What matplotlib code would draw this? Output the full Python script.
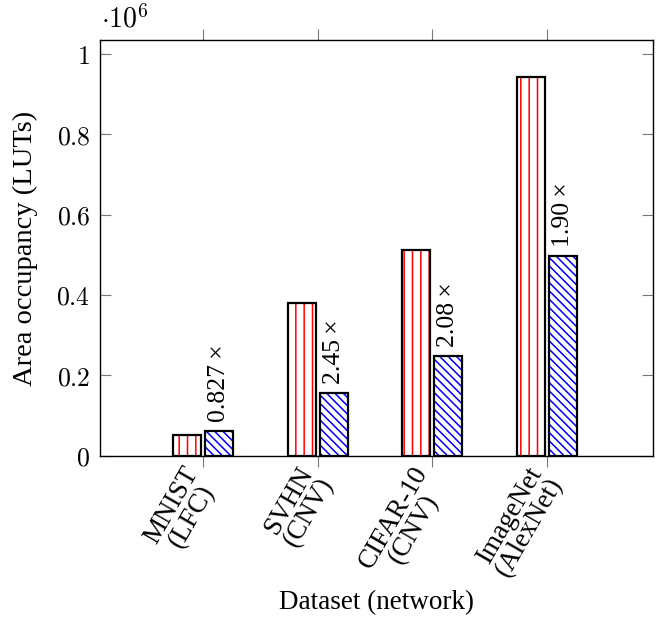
import matplotlib
matplotlib.use("Agg")
import matplotlib.pyplot as plt
import numpy as np

categories = ["MNIST\n(LFC)", "SVHN\n(CNV)", "CIFAR-10\n(CNV)", "ImageNet\n(AlexNet)"]
baseline = [0.050, 0.380, 0.512, 0.943]   # x 1e6 LUTs
proposed = [0.0605, 0.155, 0.247, 0.4965]  # x 1e6 LUTs
ratio_labels = ["0.827×", "2.45×", "2.08×", "1.90×"]
yticks = [0, 0.2, 0.4, 0.6, 0.8, 1.0]

FS_NUM = 18.5
FS_TXT = 19.5
FS_YLAB = 20.5
FS_RATIO = 18.5
plt.rcParams['mathtext.fontset'] = 'cm'
plt.rcParams['hatch.linewidth'] = 1.1
serif = ['Liberation Serif', 'DejaVu Serif']

fig = plt.figure(figsize=(6.67, 6.33), dpi=100)
ax = fig.add_axes([100/667, 1-455.5/633, 553/667, 415.5/633])

x = np.arange(len(categories))
w = 0.245
off = 0.14

# hatched fills
ax.bar(x - off, baseline, w, facecolor='white', edgecolor='red', hatch='||', linewidth=0, zorder=2)
ax.bar(x + off, proposed, w, facecolor='white', edgecolor='blue', hatch='\\\\\\\\', linewidth=0, zorder=2)
# outlines
ax.bar(x - off, baseline, w, facecolor='none', edgecolor='black', linewidth=1.6, zorder=3)
ax.bar(x + off, proposed, w, facecolor='none', edgecolor='black', linewidth=1.6, zorder=3)

for xi, v, lab in zip(x, proposed, ratio_labels):
    ax.annotate(lab.replace('×', '\u2009×'), (xi + off, v), xytext=(0, 6.5), textcoords='offset points',
                rotation=90, ha='center', va='bottom', fontsize=FS_RATIO, family=serif)

ax.set_xlim(-0.898, 3.924)
ax.set_ylim(0, 1.035)
ax.set_yticks(yticks)
ax.set_yticklabels([f'${v:g}$' for v in yticks], fontsize=FS_NUM)
ax.set_xticks(x)
ax.set_xticklabels(categories, rotation=60, ha='right', va='center', rotation_mode='anchor',
                   multialignment='center', fontsize=FS_TXT, family=serif, linespacing=0.9)

ax.tick_params(axis='y', direction='in', left=True, right=True, length=7.9, width=0.8, color='#777777', pad=7)
ax.tick_params(axis='x', direction='out', bottom=True, top=True, length=7.9, width=0.8, color='#777777', pad=5.4)
for s in ax.spines.values():
    s.set_linewidth(1.0)

fig.text(25/667, 1-248/633, 'Area occupancy (LUTs)', rotation=90, ha='center', va='center',
         fontsize=FS_YLAB, family=serif)
fig.text(377/667, 1-603/633, 'Dataset (network)', ha='center', va='center', fontsize=FS_TXT, family=serif)
fig.text(101/667, 1-27/633, r'$\cdot 10^{6}$', ha='left', va='baseline', fontsize=20)

fig.savefig('out.png', dpi=100)
